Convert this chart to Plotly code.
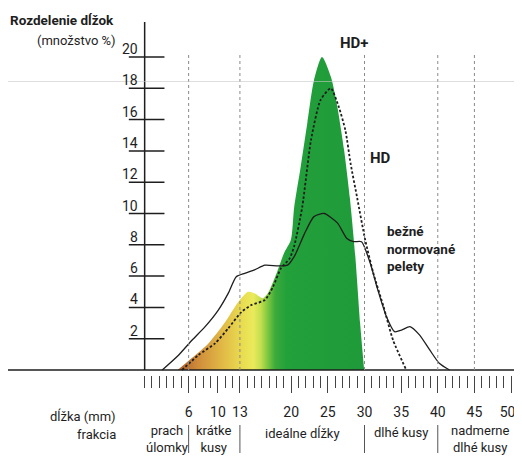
import plotly.graph_objects as go

# ---------------- data ----------------
# HD+ (filled, gradient)
hdp_x = [4.5, 6.4, 8.7, 10.9, 12.8, 14.1, 15.0, 16.1, 16.8, 18.1, 19.0, 19.95,
         20.4, 21.3, 22.2, 23.1, 24.2, 25.4, 26.3, 27.2, 28.0, 28.75, 29.4, 29.95]
hdp_y = [0, 0.75, 1.7, 3.0, 4.36, 5.0, 4.9, 4.58, 4.9, 6.3, 7.45, 8.3,
         10.4, 13.0, 15.8, 18.5, 20.0, 18.75, 16.8, 14.1, 11.0, 7.24, 3.0, 0]
# HD (dashed)
hd_x = [5.1, 7.35, 9.6, 11.4, 13.2, 14.55, 16.4, 17.5, 18.6, 19.75, 20.4, 21.5,
        22.7, 24.0, 25.4, 26.5, 27.4, 28.1, 29.0, 30.1, 31.2, 32.6, 33.9, 35.7]
hd_y = [0, 0.96, 1.7, 2.66, 3.7, 4.15, 4.47, 5.3, 6.5, 7.1, 7.9, 10.4,
        14.7, 17.25, 18.0, 16.8, 15.3, 13.2, 11.0, 8.3, 6.2, 4.05, 1.9, 0]
# bežné normované pelety (solid)
norm_x = [2.4, 4.65, 6.45, 8.25, 10.05, 11.4, 12.5, 13.65, 15.0, 16.4, 18.2, 19.5,
          20.4, 21.8, 23.1, 24.5, 26.3, 27.6, 28.5, 29.6, 30.8, 31.7, 33.0, 34.1,
          35.05, 36.2, 37.5, 38.9, 40.2, 41.6]
norm_y = [0, 0.96, 1.9, 2.77, 3.83, 4.9, 5.96, 6.18, 6.4, 6.7, 6.65, 6.7,
          7.24, 8.7, 9.8, 10.0, 9.4, 8.4, 8.2, 8.2, 6.8, 5.3, 3.4, 2.45,
          2.55, 2.77, 2.24, 1.28, 0.43, 0]

y_ticks = [2, 4, 6, 8, 10, 12, 14, 16, 18, 20]
x_major = [6, 10, 13, 20, 25, 30, 35, 40, 45, 50]
x_major_text = ["6", "10", "13", "20", "25", "30", "35", "40", "45",
                "50\u00a0\u00a0"]   # last label nudged inward (sits at the page edge)
x_minor = [v for v in range(0, 52) if v not in x_major]
guide_x = [6, 13, 30, 40, 45]
fraction_bounds = [6, 13, 30, 40]
fraction_centers = [3, 9.5, 21.5, 35, 45.7]
fraction_labels = ["prach<br>úlomky", "krátke<br>kusy", "ideálne dĺžky",
                   "dlhé kusy", "nadmerne<br>dlhé kusy"]

# ---------------- geometry helpers (page pixels) ----------------
OFF = 8                     # page body margin
PW, PH = 522, 457           # page size
W, H = PW - OFF, PH - OFF   # figure size
X0, XS = 146.0, 7.4         # page px of x=0, px per mm
Y0, YS = 370.0, 15.65       # page px of y=0, px per %
BOTTOM = 375.0              # page px of plot-area bottom (x-axis ticks start)
def dx(px):
    return (px - X0) / XS
def dy(py):
    return (Y0 - py) / YS
def py_paper(py):
    return (BOTTOM - py) / (BOTTOM - OFF)

FONT = "Roboto, sans-serif"
INK = "#1e1e1e"

fig = go.Figure()

fig.add_trace(go.Scatter(
    x=hdp_x, y=hdp_y, mode="lines", fill="tozeroy",
    line=dict(width=0, shape="spline", smoothing=0.7),
    fillgradient=dict(type="horizontal", start=4.5, stop=30,
                      colorscale=[[0.0, "#b0602a"], [0.098, "#cf8c3a"],
                                  [0.216, "#e0b545"], [0.333, "#e9dc50"],
                                  [0.392, "#eaea5c"], [0.431, "#c5df4e"],
                                  [0.47, "#7cc640"], [0.51, "#3aaa3a"],
                                  [0.569, "#22a03a"], [1.0, "#1f9a3a"]]),
    hoverinfo="skip", showlegend=False))

fig.add_trace(go.Scatter(
    x=hd_x, y=hd_y, mode="lines",
    line=dict(color=INK, width=1.8, dash="2.5px,2px", shape="spline", smoothing=0.6),
    showlegend=False))

fig.add_trace(go.Scatter(
    x=norm_x, y=norm_y, mode="lines",
    line=dict(color=INK, width=1.3, shape="spline", smoothing=0.6),
    showlegend=False))

# y-axis tick marks crossing the axis
tx, ty = [], []
for v in y_ticks:
    tx += [dx(130), dx(166), None]
    ty += [v, v, None]
fig.add_trace(go.Scatter(x=tx, y=ty, mode="lines",
                         line=dict(color=INK, width=1.5), showlegend=False,
                         hoverinfo="skip"))

shapes = []
# axes lines
shapes.append(dict(type="line", x0=dx(OFF), x1=dx(PW), y0=0, y1=0,
                   line=dict(color=INK, width=1.5), layer="above"))
shapes.append(dict(type="line", x0=0, x1=0, y0=0, y1=dy(22),
                   line=dict(color=INK, width=1.5), layer="above"))
# dotted guides
for g in guide_x:
    shapes.append(dict(type="line", x0=g, x1=g, y0=0, y1=dy(52),
                       line=dict(color="#8a8a8a", width=1, dash="dot"), layer="above"))
# fraction separators (below plot area)
for b in fraction_bounds:
    shapes.append(dict(type="line", x0=b, x1=b, yref="paper",
                       y0=py_paper(425), y1=py_paper(453),
                       line=dict(color="#555", width=1), layer="above"))
# faint scan line
shapes.append(dict(type="line", x0=dx(OFF), x1=dx(PW), y0=dy(81.5), y1=dy(81.5),
                   line=dict(color="rgba(200,200,200,0.6)", width=1.2), layer="above"))

ann = []
def A(text, x, y, size, bold=False, xanchor="center", yanchor="middle",
      yref="y", color=INK, **kw):
    ann.append(dict(text=("<b>%s</b>" % text) if bold else text, x=x, y=y,
                    xref="x", yref=yref, showarrow=False, xanchor=xanchor,
                    yanchor=yanchor, font=dict(family=FONT, size=size, color=color),
                    **kw))

for v in y_ticks:
    A(str(v), dx(141), v, 14, xanchor="right", yshift=8)

A("Rozdelenie dĺžok", dx(OFF), dy(20), 13.5, bold=True, xanchor="left")
A("(množstvo %)", dx(119), dy(40), 13, xanchor="right")
A("HD+", dx(358), dy(42.5), 15, bold=True)
A("HD", dx(384.5), dy(157.5), 15, bold=True)
A("bežné<br>normované<br>pelety", dx(389), dy(221), 13.5, bold=True,
  xanchor="left", yanchor="top", align="left")
A("dĺžka (mm)", dx(119), py_paper(416), 13, xanchor="right", yref="paper")
A("frakcia", dx(119), py_paper(434), 13, xanchor="right", yref="paper")
for c, lab in zip(fraction_centers, fraction_labels):
    A(lab, c, py_paper(438.5) if "<br>" in lab else py_paper(433), 13, yref="paper")

fig.update_layout(
    width=W, height=H,
    margin=dict(l=0, r=0, t=0, b=PH - BOTTOM, pad=0),
    paper_bgcolor="white", plot_bgcolor="white",
    xaxis=dict(range=[dx(OFF), dx(PW)], showgrid=False, zeroline=False, showline=False,
               tickmode="array", tickvals=x_major, ticktext=x_major_text,
               ticks="outside", ticklen=17, tickwidth=1, tickcolor="#444",
               ticklabelstandoff=7, ticklabeloverflow="allow",
               tickfont=dict(family=FONT, size=14, color=INK),
               minor=dict(tickmode="array", tickvals=x_minor, ticks="outside",
                          ticklen=12, tickwidth=1, tickcolor="#444"),
               fixedrange=True),
    yaxis=dict(range=[dy(BOTTOM), dy(OFF)], visible=False, fixedrange=True),
    shapes=shapes, annotations=ann, showlegend=False,
)

fig.write_html("out.html")
